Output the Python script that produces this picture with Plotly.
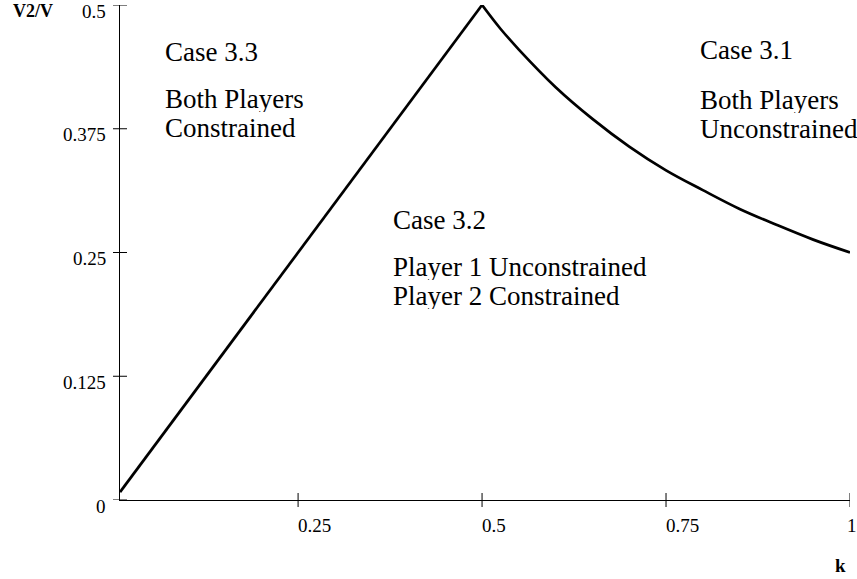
import plotly.graph_objects as go

# ---- data ----
k_rise = [0.008, 0.5]
v_rise = [0.008, 0.5]
k_fall = [0.5, 0.525, 0.55, 0.6, 0.65, 0.7, 0.75, 0.8, 0.85, 0.9, 0.95, 1.0]
v_fall = [0.5, 0.476, 0.455, 0.417, 0.385, 0.357, 0.333, 0.313, 0.294, 0.278, 0.263, 0.25]

x_ticks = [0.25, 0.5, 0.75, 1]
x_tick_labels = ["0.25", "0.5", "0.75", "1"]
y_ticks = [0, 0.125, 0.25, 0.375, 0.5]
y_tick_labels = ["0", "0.125", "0.25", "0.375", "0.5"]

region_lines = [
    "Case 3.3", "Both Players", "Constrained",
    "Case 3.1", "Both Players", "Unconstrained",
    "Case 3.2", "Player 1 Unconstrained", "Player 2 Constrained",
]

# ---- layout geometry ----
W, H = 857, 579
L, R, T, B = 120, 7, 5, 79
PW, PH = W - L - R, H - T - B
FONT = "Liberation Serif, Times New Roman, serif"


def px(x):
    return (x - L) / PW


def py(y):
    return (H - B - y) / PH


region_pos = [
    (165, 52), (165, 99), (165, 128),
    (700, 50), (700, 100), (700, 129),
    (393, 220), (393, 267), (393, 295.5),
]

fig = go.Figure()
fig.add_trace(go.Scatter(x=k_rise, y=v_rise, mode="lines",
                         line=dict(color="black", width=2.7),
                         cliponaxis=False, showlegend=False, hoverinfo="skip"))
fig.add_trace(go.Scatter(x=k_fall, y=v_fall, mode="lines",
                         line=dict(color="black", width=2.7, shape="spline",
                                   smoothing=1.0),
                         cliponaxis=False, showlegend=False, hoverinfo="skip"))

shapes = []
annotations = []
for v, lab in zip(y_ticks, y_tick_labels):
    shapes.append(dict(type="line", xref="paper", xsizemode="pixel", xanchor=0,
                       x0=-7, x1=7, yref="y", y0=v, y1=v,
                       line=dict(color="black", width=1)))
    annotations.append(dict(xref="paper", x=0, yref="y", y=v, text=lab,
                            showarrow=False, xanchor="right", yanchor="middle",
                            xshift=-12, yshift=-6,
                            font=dict(family=FONT, size=19, color="black")))
for v, lab in zip(x_ticks, x_tick_labels):
    shapes.append(dict(type="line", yref="paper", ysizemode="pixel", yanchor=0,
                       y0=-7, y1=7, xref="x", x0=v, x1=v,
                       line=dict(color="black", width=1)))
    annotations.append(dict(xref="x", x=v, yref="paper", y=0, text=lab,
                            showarrow=False, xanchor="left", yanchor="middle",
                            xshift=-5 if v == x_ticks[-1] else -2, yshift=-25,
                            font=dict(family=FONT, size=19, color="black")))

for txt, (lx, ly) in zip(region_lines, region_pos):
    annotations.append(dict(xref="paper", yref="paper", x=px(lx), y=py(ly),
                            text=txt, showarrow=False, xanchor="left",
                            yanchor="middle", xshift=-1, height=26,
                            borderpad=0,
                            font=dict(family=FONT, size=27, color="black")))

annotations.append(dict(xref="paper", yref="paper", x=px(33), y=py(11),
                        text="<b>V2/V</b>", showarrow=False,
                        xanchor="center", yanchor="middle",
                        font=dict(family=FONT, size=18, color="black")))
annotations.append(dict(xref="paper", yref="paper", x=px(840), y=py(565),
                        text="<b>k</b>", showarrow=False,
                        xanchor="center", yanchor="middle",
                        font=dict(family=FONT, size=19, color="black")))

fig.update_layout(
    width=W, height=H,
    margin=dict(l=L, r=R, t=T, b=B),
    paper_bgcolor="white", plot_bgcolor="white",
    shapes=shapes, annotations=annotations,
    hovermode=False,
    xaxis=dict(range=[0.008, 1.0], showgrid=False, zeroline=False,
               showline=True, linecolor="black", linewidth=1,
               showticklabels=False, ticks="", fixedrange=True),
    yaxis=dict(range=[0, 0.5], showgrid=False, zeroline=False,
               showline=True, linecolor="black", linewidth=1,
               showticklabels=False, ticks="", fixedrange=True),
)

fig.write_html("out.html",
               config={"displayModeBar": False},
               post_script="document.body.style.margin='0';")
